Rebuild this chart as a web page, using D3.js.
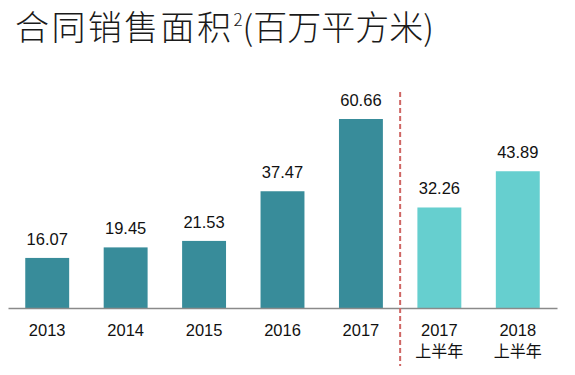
<!DOCTYPE html>
<html>
<head>
<meta charset="utf-8">
<script src="https://cdn.jsdelivr.net/npm/d3@7"></script>
<style>
  body { margin: 0; background: #fff; }
  text { font-family: "Liberation Sans", Arial, sans-serif; }
</style>
</head>
<body>
<div id="chart"></div>
<script>
// chart values
var categories = ["2013", "2014", "2015", "2016", "2017", "2017H1", "2018H1"];
var labelLine1 = ["2013", "2014", "2015", "2016", "2017", "2017", "2018"];
var labelLine2 = ["", "", "", "", "", "上半年", "上半年"];
var values = [16.07, 19.45, 21.53, 37.47, 60.66, 32.26, 43.89];
var halfYear = [false, false, false, false, false, true, true];

var width = 575,
  height = 375,
  axisY = 308;

var svg = d3
  .select("#chart")
  .append("svg")
  .attr("width", width)
  .attr("height", height);

// title
var title = svg
  .append("text")
  .attr("x", 15)
  .attr("y", 40)
  .style("font-family", '"Noto Sans CJK SC", sans-serif')
  .style("font-size", "34px")
  .style("font-weight", 300)
  .attr("fill", "#1a1a1a");
title.append("tspan").style("letter-spacing", "2.4px").text("合同销售面积");
title.append("tspan").attr("dy", -14).style("font-size", "17px").text("2");
title.append("tspan").attr("dy", 14).text("(百万平方米)");

var xscale = d3
  .scaleBand()
  .domain(categories)
  .range([8, 557])
  .paddingInner(0.44)
  .paddingOuter(0.22);

var yscale = d3
  .scaleLinear()
  .domain([0, 60.66])
  .range([axisY, 119]);

svg
  .selectAll("rect.bar")
  .data(values)
  .enter()
  .append("rect")
  .attr("class", "bar")
  .attr("x", (d, i) => xscale(categories[i]))
  .attr("y", (d) => yscale(d))
  .attr("width", xscale.bandwidth())
  .attr("height", (d) => axisY - yscale(d))
  .attr("fill", (d, i) => (halfYear[i] ? "#66cfcf" : "#388c9a"));

// value labels
svg
  .selectAll("text.val")
  .data(values)
  .enter()
  .append("text")
  .attr("class", "val")
  .attr("x", (d, i) => xscale(categories[i]) + xscale.bandwidth() / 2)
  .attr("y", (d) => yscale(d) - 13)
  .attr("text-anchor", "middle")
  .style("font-size", "16.5px")
  .attr("fill", "#111")
  .text((d) => d.toFixed(2));

// axis line
var x_axis = d3.axisBottom(xscale).tickSize(0).tickFormat("");
svg
  .append("g")
  .attr("transform", "translate(0," + axisY + ")")
  .call(x_axis)
  .call((g) => g.select(".domain").attr("stroke", "#8a8a8a").attr("stroke-width", 1.5));

// category labels
svg
  .selectAll("text.cat")
  .data(categories)
  .enter()
  .append("text")
  .attr("class", "cat")
  .attr("x", (d) => xscale(d) + xscale.bandwidth() / 2)
  .attr("y", 336)
  .attr("text-anchor", "middle")
  .style("font-size", "16.5px")
  .attr("fill", "#111")
  .text((d, i) => labelLine1[i]);

svg
  .selectAll("text.cat2")
  .data(categories)
  .enter()
  .append("text")
  .attr("class", "cat2")
  .attr("x", (d) => xscale(d) + xscale.bandwidth() / 2)
  .attr("y", 357)
  .attr("text-anchor", "middle")
  .style("font-family", '"Noto Sans CJK SC", sans-serif')
  .style("font-size", "16px")
  .attr("fill", "#111")
  .text((d, i) => labelLine2[i]);

// separator between full years and half years
var sepX = (xscale("2017") + xscale.bandwidth() + xscale("2017H1")) / 2;
svg
  .append("line")
  .attr("x1", sepX)
  .attr("x2", sepX)
  .attr("y1", 92)
  .attr("y2", 366)
  .attr("stroke", "#cf6664")
  .attr("stroke-width", 2)
  .attr("stroke-dasharray", "5,3");
</script>
</body>
</html>
